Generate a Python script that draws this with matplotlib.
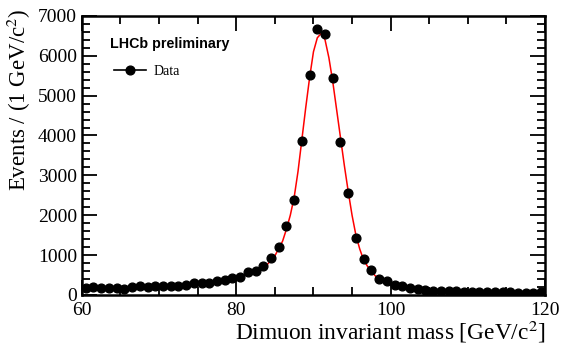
import matplotlib
matplotlib.use("Agg")
import matplotlib.pyplot as plt
from matplotlib.ticker import MultipleLocator
from matplotlib.lines import Line2D

# dimuon mass bins (bin centres, 1 GeV wide)
mass = [60.5 + i for i in range(60)]
events = [180, 195, 165, 180, 180, 155, 190, 220, 195, 213,
          220, 220, 220, 246, 305, 288, 305, 355, 380, 421,
          450, 565, 600, 730, 917, 1205, 1723, 2370, 3868, 5506,
          6667, 6550, 5430, 3843, 2548, 1430, 890, 615, 395, 350,
          250, 213, 180, 145, 113, 105, 95, 95, 88, 70,
          80, 80, 63, 63, 63, 63, 55, 55, 55, 63]

# fit curve
fit_mass = [60, 65, 70, 74, 78, 80, 82, 84, 85, 86, 86.5, 87, 87.5, 88, 88.5, 89, 89.5,
            90, 90.5, 91, 91.5, 92, 92.5, 93, 93.5, 94, 94.5, 95, 95.5, 96, 96.5,
            97, 98, 99, 100, 102, 105, 110, 115, 120]
fit_events = [180, 175, 185, 225, 330, 420, 560, 760, 980, 1350, 1650, 2000, 2450, 3100,
              3900, 4700, 5450, 6100, 6450, 6560, 6400, 5950, 5350, 4650, 3950, 3250,
              2600, 2000, 1500, 1150, 880, 720, 480, 350, 270, 180, 115, 75, 55, 45]

plt.rcParams['font.family'] = ['Liberation Serif', 'DejaVu Serif']
plt.rcParams['mathtext.fontset'] = 'stix'

fig = plt.figure(figsize=(5.61, 3.45), dpi=100)
ax = fig.add_axes([0.146, 0.145, 0.8255, 0.809])

ax.plot(fit_mass, fit_events, color='red', lw=1.1, zorder=2)
ax.plot(mass, events, 'o', color='black', ms=6.3, zorder=3)

ax.set_xlim(60, 120)
ax.set_ylim(0, 7000)
ax.xaxis.set_major_locator(MultipleLocator(20))
ax.xaxis.set_minor_locator(MultipleLocator(5))
ax.yaxis.set_major_locator(MultipleLocator(1000))
ax.yaxis.set_minor_locator(MultipleLocator(200))
ax.tick_params(which='both', direction='in', top=True, right=True, width=1.3,
               labelsize=14, color='black')
ax.tick_params(which='major', length=11)
ax.tick_params(which='minor', length=6)
ax.tick_params(axis='x', pad=5)
for s in ax.spines.values():
    s.set_linewidth(1.8)

ax.set_xlabel(r'Dimuon invariant mass [GeV/c$^{2}$]', fontsize=16.8, ha='right', va='top')
ax.xaxis.set_label_coords(1.0, -0.086)
ax.set_ylabel(r'Events / (1 GeV/c$^{2}$)', fontsize=16.5, ha='right', va='bottom')
ax.yaxis.set_label_coords(-0.106, 1.025)

ax.text(0.06, 0.9, 'LHCb preliminary', transform=ax.transAxes, fontsize=10.3,
        fontweight='bold', family='Liberation Sans', va='center')
h = Line2D([], [], color='black', marker='o', ms=6.3, lw=1.2)
ax.legend([h], ['Data'], loc='upper left', bbox_to_anchor=(0.058, 0.845), frameon=False,
          fontsize=10, handlelength=2.3, handletextpad=0.5, borderaxespad=0)

fig.savefig('out.png', dpi=100)
